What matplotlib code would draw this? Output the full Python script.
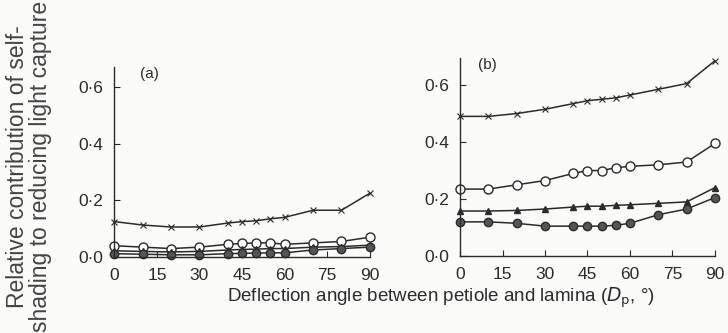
import matplotlib.pyplot as plt

plt.rcParams['font.family'] = ['Liberation Sans', 'DejaVu Sans']

# deflection angles (degrees)
angle = [0, 10, 20, 30, 40, 45, 50, 55, 60, 70, 80, 90]

# panel (a)
a_cross = [0.125, 0.113, 0.106, 0.106, 0.12, 0.125, 0.128, 0.135, 0.14, 0.165, 0.165, 0.225]
a_open = [0.04, 0.035, 0.03, 0.035, 0.045, 0.048, 0.05, 0.05, 0.045, 0.05, 0.055, 0.07]
a_tri = [0.022, 0.02, 0.018, 0.02, 0.025, 0.027, 0.028, 0.03, 0.03, 0.035, 0.037, 0.042]
a_fill = [0.012, 0.01, 0.008, 0.008, 0.012, 0.013, 0.014, 0.015, 0.015, 0.025, 0.03, 0.035]

# panel (b)
b_cross = [0.49, 0.49, 0.50, 0.515, 0.535, 0.545, 0.55, 0.555, 0.565, 0.585, 0.605, 0.685]
b_open = [0.235, 0.235, 0.25, 0.265, 0.29, 0.30, 0.30, 0.31, 0.315, 0.32, 0.33, 0.395]
b_tri = [0.158, 0.158, 0.16, 0.165, 0.172, 0.175, 0.175, 0.178, 0.18, 0.185, 0.19, 0.24]
b_fill = [0.12, 0.12, 0.115, 0.105, 0.105, 0.105, 0.105, 0.108, 0.115, 0.145, 0.165, 0.205]

yticks = [0.0, 0.2, 0.4, 0.6]
xticks = [0, 15, 30, 45, 60, 75, 90]

ink = '#2b2b2b'
fig = plt.figure(figsize=(7.28, 3.33), dpi=100)
fig.patch.set_facecolor('#fbfbfa')

ax_a = fig.add_axes([0.157, 0.228, 0.351, 0.571])
ax_b = fig.add_axes([0.632, 0.231, 0.350, 0.595])


def draw(ax, cross, opn, tri, fill, top, tag, tag_x):
    kw = dict(color=ink, lw=1.1, clip_on=False)
    ax.plot(angle, cross, marker='x', ms=5, mew=0.8, **kw)
    ax.plot(angle, opn, marker='o', ms=6.5, mfc='white', mec=ink, mew=1.0, **kw)
    ax.plot(angle, tri, marker='^', ms=4.5, mfc=ink, mec=ink, **kw)
    ax.plot(angle, fill, marker='o', ms=6, mfc='#555555', mec=ink, **kw)
    ax.set_xlim(0, 90)
    ax.set_ylim(0, top)
    ax.set_facecolor('none')
    for s in ['top', 'right']:
        ax.spines[s].set_visible(False)
    for s in ['left', 'bottom']:
        ax.spines[s].set_color(ink)
        ax.spines[s].set_linewidth(1.0)
    ax.set_xticks(xticks)
    ax.set_yticks(yticks)
    ax.set_yticklabels([f'{v:.1f}'.replace('.', '\u00b7') for v in yticks])
    ax.tick_params(direction='in', length=4, width=0.8, colors=ink,
                   labelsize=12.5, pad=8)
    ax.text(tag_x, 1.0, tag, transform=ax.transAxes, fontsize=11, color=ink,
            va='top')


draw(ax_a, a_cross, a_open, a_tri, a_fill, 0.67, '(a)', 0.1)
draw(ax_b, b_cross, b_open, b_tri, b_fill, 0.695, '(b)', 0.07)

fig.text(0.605, 0.105, 'Deflection angle between petiole and lamina ($D_\\mathrm{p}$, °)',
         ha='center', va='center', fontsize=13.5, color=ink)
fig.text(0.04, 0.5, 'Relative contribution of self-\nshading to reducing light capture',
         rotation=90, ha='center', va='center', fontsize=16.5, color='#444444',
         linespacing=1.0)

fig.savefig('out.png', dpi=100, facecolor=fig.get_facecolor())
